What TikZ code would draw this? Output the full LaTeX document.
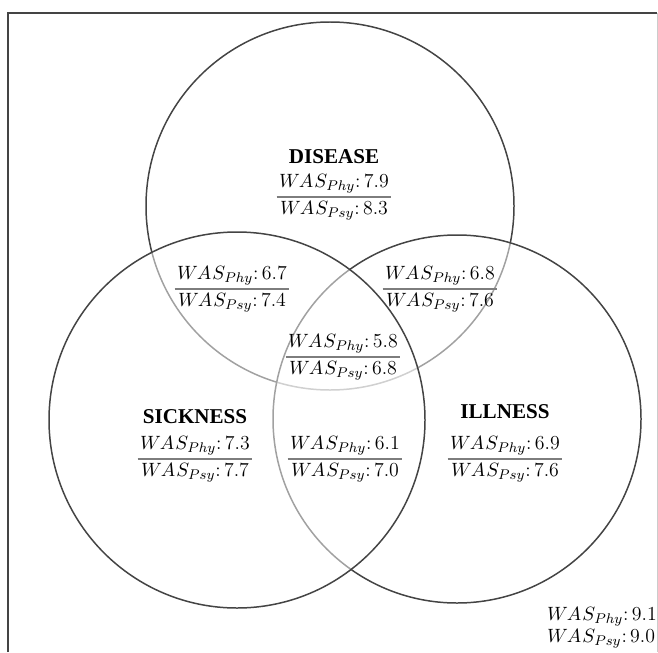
\documentclass[tikz,border=0pt]{standalone}
\usepackage{fontspec}
\usepackage{amsmath}
\newfontfamily\titlefont{Liberation Serif}
\usetikzlibrary{math}
\definecolor{ringgray}{RGB}{68,68,68}
\definecolor{rulegray}{RGB}{125,125,125}

\newcommand{\wasphy}[1]{$W\mkern-1mu A\mkern1mu S_{Phy}$:\,#1}
\newcommand{\waspsy}[1]{$W\mkern-1mu A\mkern1mu S_{Psy}$:\,#1}

\tikzset{
  ring/.style={draw=ringgray, line width=0.85pt},
  overring/.style={ring, fill=white, fill opacity=0.5},
  setname/.style={font=\titlefont\fontsize{12}{14}\selectfont\bfseries, inner sep=0pt},
  wasfrac/.style={align=center, inner xsep=1.5pt, inner ysep=0pt,
    font=\fontsize{11.3}{15.5}\selectfont,
    path picture={\draw[rulegray, line width=0.8pt]
      (path picture bounding box.west) -- (path picture bounding box.east);}},
}

\begin{document}
\begin{tikzpicture}[x=0.02cm, y=-0.02cm]
\tikzmath{
\rT=184; \rS=188; \rI=184;
}
\useasboundingbox (0,0) rectangle (658,652);

% frame
\draw[ringgray, line width=0.8pt] (8,652) -- (8,13) -- (657,13);
\draw[gray!40, line width=0.5pt] (657,13) -- (657,652);

% circles
\draw[ring] (330,206) circle (\rT);
\draw[overring] (457,419) circle (\rI);
\draw[overring] (237,420) circle (\rS);

% names
\node[setname] (disease) at (334,157) {DISEASE};
\node[setname] (sickness) at (195,417) {SICKNESS};
\node[setname] (illness) at (505,412) {ILLNESS};

% scores
\node[wasfrac] (d) at (334,197) {\wasphy{7.9}\\\waspsy{8.3}};
\node[wasfrac] (ds) at (232,289) {\wasphy{6.7}\\\waspsy{7.4}};
\node[wasfrac] (di) at (440,289) {\wasphy{6.8}\\\waspsy{7.6}};
\node[wasfrac] (dsi) at (343,357) {\wasphy{5.8}\\\waspsy{6.8}};
\node[wasfrac] (s) at (195,459) {\wasphy{7.3}\\\waspsy{7.7}};
\node[wasfrac] (si) at (345,459) {\wasphy{6.1}\\\waspsy{7.0}};
\node[wasfrac] (i) at (505,459) {\wasphy{6.9}\\\waspsy{7.6}};

\node[align=left, inner sep=0pt, font=\fontsize{11.3}{12.5}\selectfont] (none) at (602,628)
  {\wasphy{9.1}\\\waspsy{9.0}};

\end{tikzpicture}
\end{document}
